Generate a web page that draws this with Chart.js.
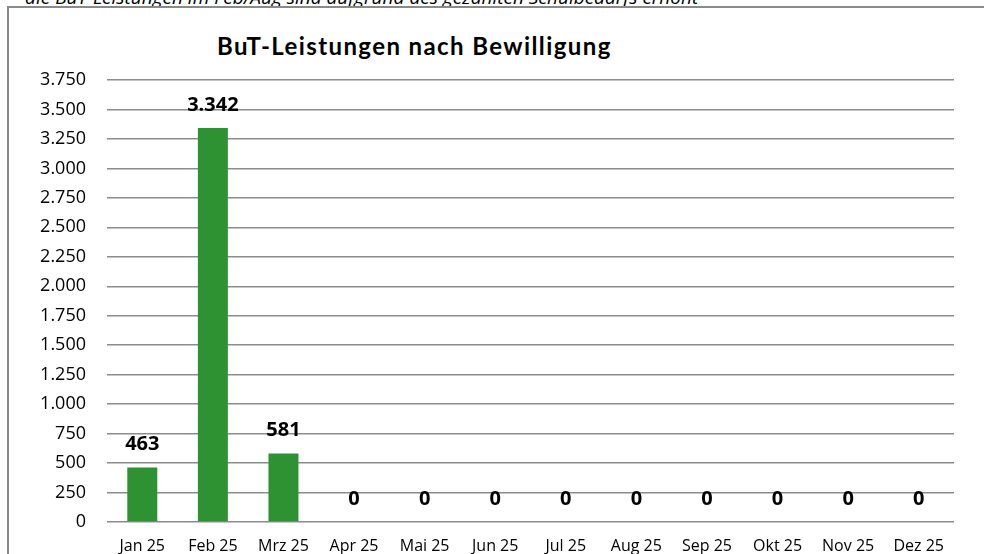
<!DOCTYPE html>
<html>
<head>
<meta charset="utf-8">
<script src="https://cdn.jsdelivr.net/npm/chart.js@4.4.1/dist/chart.umd.min.js"></script>
<style>
  html, body { margin: 0; padding: 0; background: #fff; overflow: hidden; }
  #wrap { position: relative; width: 984px; height: 554px; }
  #note { position: absolute; left: 25px; top: -16px; font: italic 19px "Open Sans", sans-serif; line-height: 26px; color: #000; white-space: nowrap; }
  #frame { position: absolute; left: 7px; top: 6px; width: 990px; height: 560px; border-left: 2px solid #8a8a8a; border-top: 2px solid #8a8a8a; background: #fff; }
  #title { position: absolute; left: 217px; top: 31px; font: bold 24px Lato, sans-serif; letter-spacing: 1.4px; color: #000; white-space: nowrap; }
  canvas { position: absolute; left: 0; top: 0; }
</style>
</head>
<body>
<div id="wrap">
  <div id="note">die BuT-Leistungen im Feb/Aug sind aufgrund des gezahlten Schulbedarfs erhöht</div>
  <div id="frame"></div>
  <div id="title">BuT-Leistungen nach Bewilligung</div>
  <canvas id="chart" width="984" height="554"></canvas>
</div>
<script>
// Monate und Werte aus der Vorlage
const monate = ['Jan 25', 'Feb 25', 'Mrz 25', 'Apr 25', 'Mai 25', 'Jun 25', 'Jul 25', 'Aug 25', 'Sep 25', 'Okt 25', 'Nov 25', 'Dez 25'];
const leistungen = [463, 3342, 581, 0, 0, 0, 0, 0, 0, 0, 0, 0];

const fmt = new Intl.NumberFormat('de-DE');

// ----- Beschriftung der Balken -----
const wertLabels = {
    id: 'wertLabels',
    afterDatasetsDraw(chart) {
        const ctx = chart.ctx;
        const meta = chart.getDatasetMeta(0);
        ctx.save();
        ctx.font = 'bold 20px "Open Sans", sans-serif';
        ctx.fillStyle = '#000';
        ctx.textAlign = 'center';
        ctx.textBaseline = 'middle';
        meta.data.forEach(function (bar, i) {
            ctx.fillText(fmt.format(leistungen[i]), bar.x, bar.y - 23);
        });
        ctx.restore();
    }
};

new Chart(document.getElementById('chart'), {
    type: 'bar',
    data: {
        labels: monate,
        datasets: [{
            data: leistungen,
            backgroundColor: '#2e9232',
            barPercentage: 0.425,
            categoryPercentage: 1
        }]
    },
    options: {
        responsive: false,
        animation: false,
        layout: { padding: { top: 80, right: 30, left: 0, bottom: 0 } },
        plugins: {
            legend: { display: false },
            tooltip: { enabled: false }
        },
        scales: {
            x: {
                grid: { display: false },
                border: { display: false },
                ticks: { color: '#000', font: { family: 'Open Sans', size: 16 }, padding: 7, maxRotation: 0 },
                afterFit: function (s) { s.height = 32; }
            },
            y: {
                min: 0,
                max: 3750,
                grid: { color: '#8c8c8c', lineWidth: 1.5, drawTicks: false },
                border: { display: false },
                ticks: {
                    stepSize: 250,
                    color: '#000',
                    font: { family: 'Open Sans', size: 18 },
                    padding: 21,
                    callback: function (v) { return fmt.format(v); }
                },
                afterFit: function (s) { s.width = 107; }
            }
        }
    },
    plugins: [wertLabels]
});
</script>
</body>
</html>
